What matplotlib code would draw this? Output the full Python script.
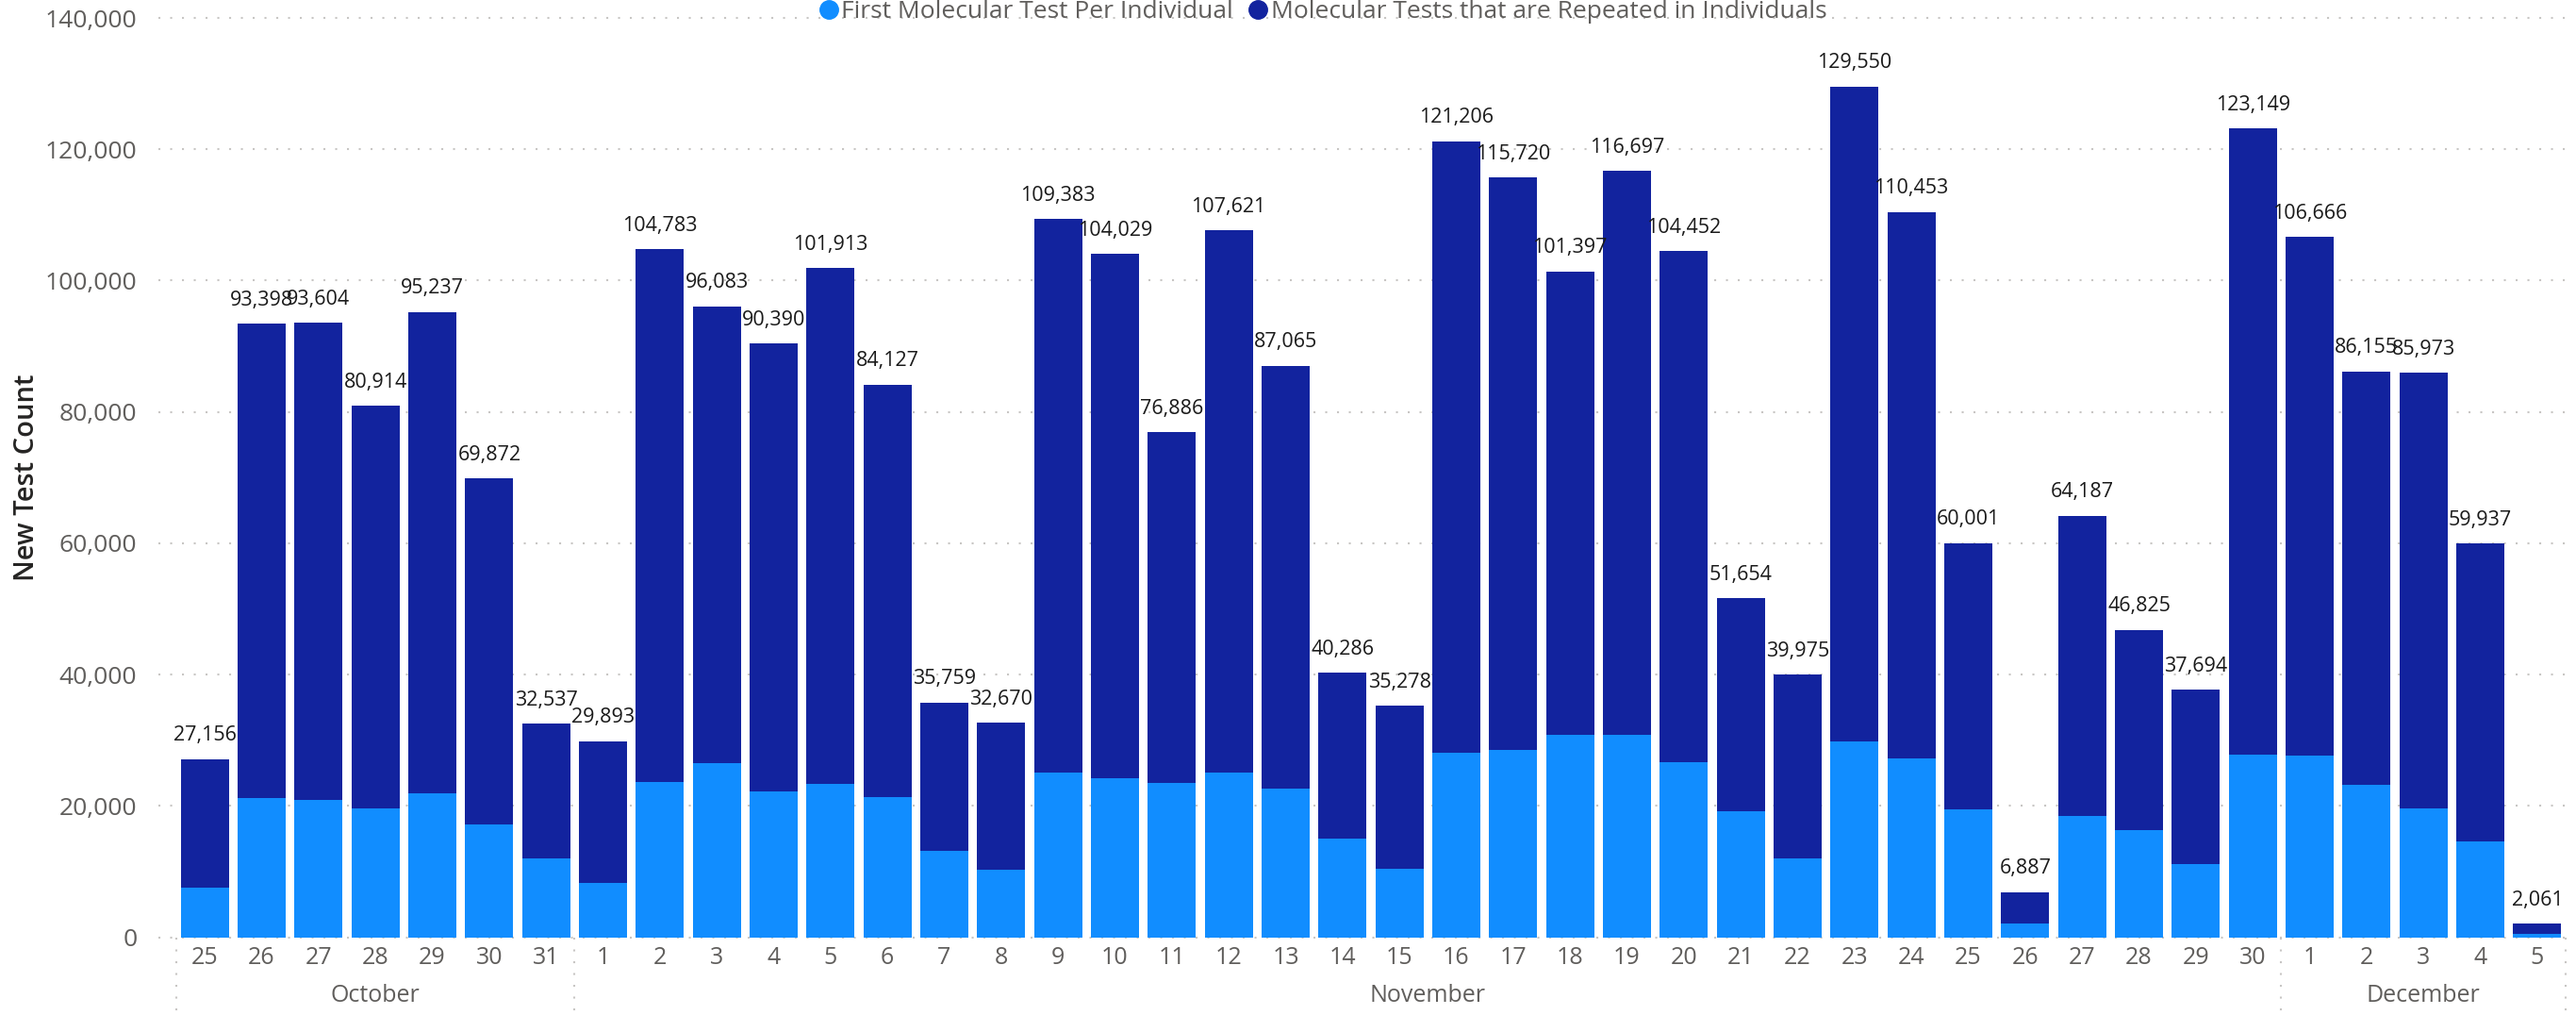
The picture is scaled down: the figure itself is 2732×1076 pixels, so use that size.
import matplotlib
matplotlib.use("Agg")
import matplotlib.pyplot as plt
from matplotlib.lines import Line2D
import matplotlib.transforms as mtransforms
import numpy as np

plt.rcParams['font.family'] = ['Open Sans', 'DejaVu Sans']

# ---- data ----
days = ["25", "26", "27", "28", "29", "30", "31"] + [str(d) for d in range(1, 31)] + ["1", "2", "3", "4", "5"]
months = ["October", "November", "December"]
month_counts = [7, 30, 5]

totals = [27156, 93398, 93604, 80914, 95237, 69872, 32537,
          29893, 104783, 96083, 90390, 101913, 84127, 35759, 32670, 109383, 104029,
          76886, 107621, 87065, 40286, 35278, 121206, 115720, 101397, 116697, 104452,
          51654, 39975, 129550, 110453, 60001, 6887, 64187, 46825, 37694, 123149,
          106666, 86155, 85973, 59937, 2061]

first_tests = [7540, 21150, 20860, 19570, 22000, 17140, 11980,
               8260, 23720, 26590, 22150, 23440, 21430, 13130, 10260, 25150, 24300,
               23580, 25150, 22580, 14990, 10400, 28160, 28590, 30900, 30900, 26730,
               19140, 11980, 29880, 27300, 19430, 2100, 18420, 16280, 11120, 27870,
               27730, 23290, 19570, 14560, 520]

repeat_tests = [t - f for t, f in zip(totals, first_tests)]

series_names = ["First Molecular Test Per Individual", "Molecular Tests that are Repeated in Individuals"]
colors = ["#118DFF", "#12239E"]
y_ticks = [0, 20000, 40000, 60000, 80000, 100000, 120000, 140000]

# ---- figure ----
W, H = 2732, 1076
fig = plt.figure(figsize=(W / 100, H / 100), dpi=100)
ax = fig.add_axes([187 / W, 1 - 993.7 / H, (2721 - 187) / W, (993.7 - 19) / H])

x = np.arange(len(days))
ax.bar(x, first_tests, width=0.85, color=colors[0], zorder=3)
ax.bar(x, repeat_tests, width=0.85, bottom=first_tests, color=colors[1], zorder=3)

ax.set_xlim(-0.5, len(days) - 0.5)
ax.set_ylim(0, 140000)

# gridlines (dotted, extend slightly left of plot)
for yt in y_ticks:
    ax.plot([-0.82, len(days) - 0.5], [yt, yt], linestyle=(0, (1, 5)), linewidth=1.5,
            color="#C8C6C4", zorder=1, clip_on=False)

for s in ax.spines.values():
    s.set_visible(False)

ax.set_yticks(y_ticks)
ax.set_yticklabels([f"{v:,}" for v in y_ticks])
ax.tick_params(axis='y', length=0, pad=30, labelsize=19, labelcolor="#605E5C")
ax.set_xticks(x)
ax.set_xticklabels(days)
ax.tick_params(axis='x', length=0, pad=7, labelsize=18, labelcolor="#605E5C")

ax.set_ylabel("New Test Count", fontsize=21, fontweight='semibold', color="#252423", va='center')
ax.yaxis.set_label_coords(-0.0627, 0.5)

# data labels
for xi, t in zip(x, totals):
    ax.annotate(f"{t:,}", (xi, t), xytext=(0, 25), textcoords='offset pixels',
                ha='center', va='center', fontsize=15.5, color="#1A1A1A", zorder=4)

# month separators and labels
trans = mtransforms.blended_transform_factory(ax.transData, ax.transAxes)
bounds = np.concatenate([[0], np.cumsum(month_counts)]) - 0.5
for b in bounds:
    ax.plot([b, b], [0, -0.085], transform=trans, linestyle=(0, (1, 5)), linewidth=1.5,
            color="#C8C6C4", clip_on=False)
for i, m in enumerate(months):
    cx = (bounds[i] + bounds[i + 1]) / 2
    ax.text(cx, -0.0636, m, transform=trans, ha='center', va='center', fontsize=18, color="#605E5C")

# legend
handles = [Line2D([0], [0], marker='o', linestyle='none', markersize=14,
                  markerfacecolor=c, markeredgecolor=c) for c in colors]
fig.legend(handles, series_names, loc='center', bbox_to_anchor=(0.513, 0.988), ncol=2,
           frameon=False, fontsize=19, labelcolor="#605E5C", handletextpad=0.0,
           columnspacing=0.5, borderpad=0, handlelength=1.0)

fig.savefig("out.png", dpi=100, facecolor="white")
